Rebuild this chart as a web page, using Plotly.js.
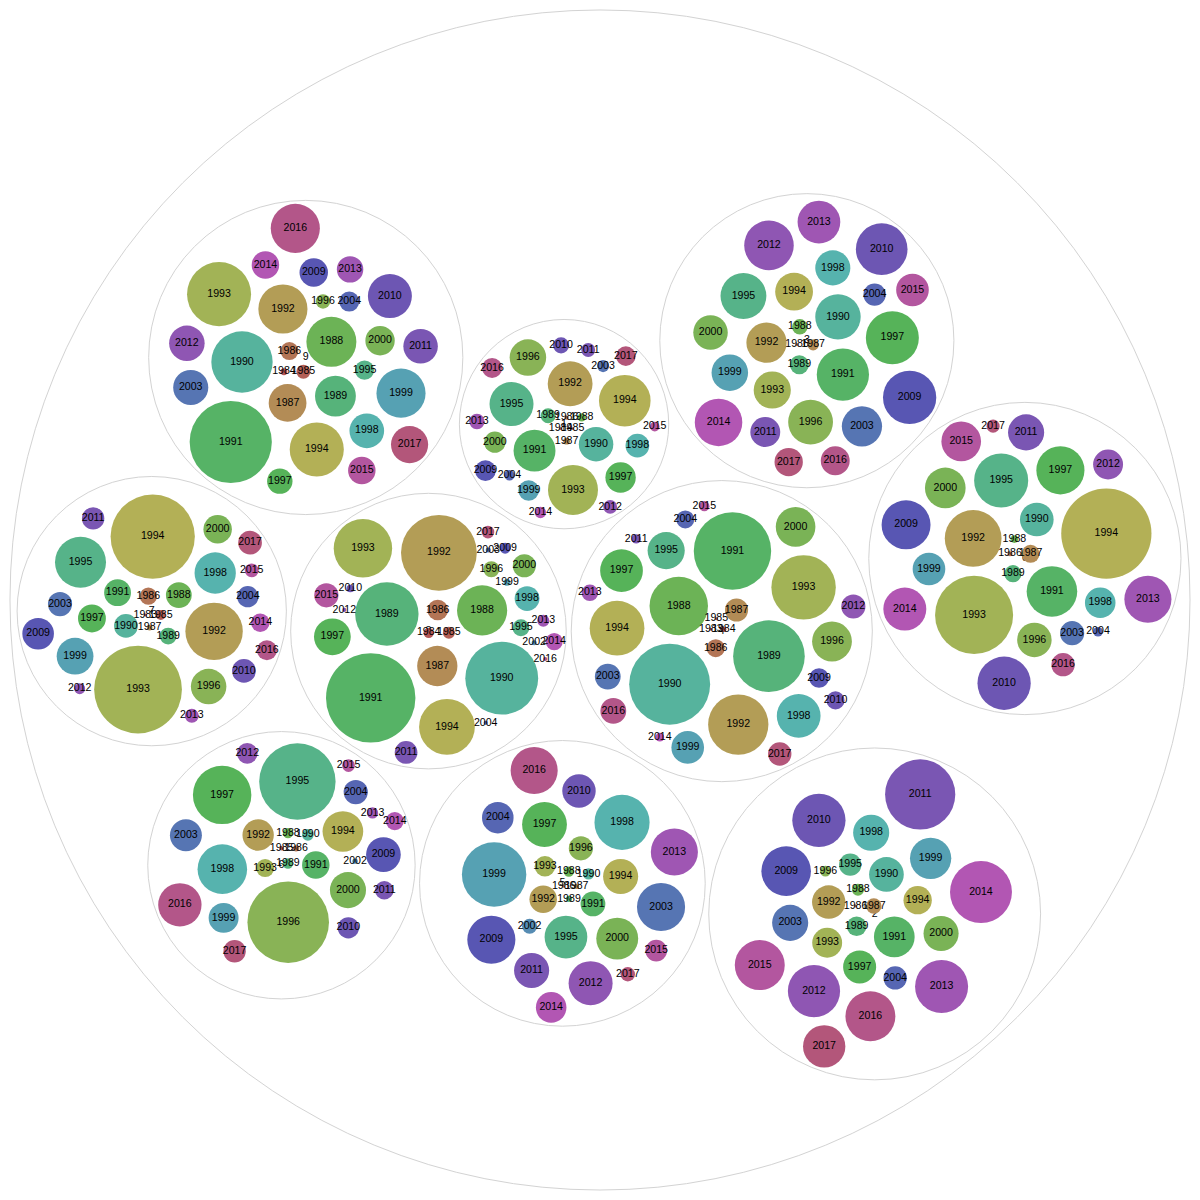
<!DOCTYPE html>
<html>
<head>
<meta charset="utf-8">
<script src="https://cdn.plot.ly/plotly-3.0.1.min.js"></script>
<style>html,body{margin:0;padding:0;background:#fff}#chart{width:1200px;height:1200px}</style>
</head>
<body>
<div id="chart"></div>
<script>
// ---------------- DATA ----------------
const years = [1983,1984,1985,1986,1987,1988,1989,1990,1991,1992,1993,1994,1995,1996,1997,1998,1999,2000,2002,2003,2004,2009,2010,2011,2012,2013,2014,2015,2016,2017];

// value per year for each group (null = year absent in that group)
const values0 = [null,null,null,6,76,14,69,266,600,756,1429,1910,686,279,543,219,250,388,null,137,22,562,666,306,210,520,433,369,128,40];
const values1 = [null,2,2,4,11,16,52,279,412,471,586,625,454,313,216,132,100,106,null,34,25,100,61,45,45,56,30,22,94,90];
const values2 = [null,null,null,2,56,34,90,282,388,262,210,188,117,28,256,306,400,289,null,306,128,576,666,1156,640,660,900,586,586,420];
const values3 = [null,null,null,2,30,56,85,484,640,380,324,335,493,471,660,289,313,279,null,380,117,666,625,210,576,428,529,250,196,188];
const values4 = [2,6,2,76,125,801,1204,1537,1406,853,973,702,324,372,428,449,250,369,null,156,76,90,77,20,137,64,18,25,156,128];
const values5 = [null,null,null,2,6,25,9,30,144,177,100,289,428,137,471,713,973,412,53,543,234,543,262,289,454,520,219,110,520,49];
const values6 = [null,null,5,9,null,25,25,32,177,231,77,388,1369,1560,801,576,210,306,7,240,137,282,106,81,100,30,77,38,441,117];
const values7 = [2,null,23,69,8,156,67,132,169,773,1806,1665,610,296,182,400,317,190,null,137,106,234,132,117,28,46,81,45,94,132];
const values8 = [null,25,34,100,380,590,942,1246,1875,1347,801,729,67,61,317,144,11,125,6,6,4,28,14,121,4,34,69,137,4,38];
const values9 = [null,11,46,76,335,586,392,882,1584,566,961,686,86,49,151,282,566,202,null,289,94,190,454,279,296,164,177,177,566,324];

// order in which the groups appear in the data
const groupOrder = ["8","4","1","5","3","9","2","6","0","7"];
const groupValues = {"0":values0,"1":values1,"2":values2,"3":values3,"4":values4,"5":values5,"6":values6,"7":values7,"8":values8,"9":values9};

// ---------------- STYLE ----------------
const yearHues = [354,0,6,20,35,106,143,166,130,46,71,58,153,87,122,177,192,97,205,220,230,241,255,263,277,287,299,313,327,337];
const SAT = 0.38, LIGHT = 0.52;
const OUTER_R = 590, CENTER = 600;
const PAD_LEAF = 4.5, EDGE_LEAF = 3, PAD_GROUP = 2.5, EDGE_GROUP = 7;
const FONT = {family: '"Liberation Sans", Arial, Helvetica, sans-serif', size: 10.6, color: '#000'};

function hslHex(h, s, l) {
  const c = (1 - Math.abs(2 * l - 1)) * s, hp = h / 60, x = c * (1 - Math.abs(hp % 2 - 1));
  let r = 0, g = 0, b = 0;
  if (hp < 1) { r = c; g = x; } else if (hp < 2) { r = x; g = c; } else if (hp < 3) { g = c; b = x; }
  else if (hp < 4) { g = x; b = c; } else if (hp < 5) { r = x; b = c; } else { r = c; b = x; }
  const m = l - c / 2;
  const to = v => Math.round((v + m) * 255).toString(16).padStart(2, '0');
  return '#' + to(r) + to(g) + to(b);
}

// ---------------- CIRCLE PACKING (front-chain, as in d3-hierarchy) ----------------
function lcg() { let s = 1; return () => (s = (1664525 * s + 1013904223) % 4294967296) / 4294967296; }
function shuffle(arr, random) { let m = arr.length, t, i; while (m) { i = random() * m-- | 0; t = arr[m]; arr[m] = arr[i]; arr[i] = t; } return arr; }
function enclosesNot(a, b) { const dr = a.r - b.r, dx = b.x - a.x, dy = b.y - a.y; return dr < 0 || dr * dr < dx * dx + dy * dy; }
function enclosesWeak(a, b) { const dr = a.r - b.r + Math.max(a.r, b.r, 1) * 1e-9, dx = b.x - a.x, dy = b.y - a.y; return dr > 0 && dr * dr > dx * dx + dy * dy; }
function enclosesWeakAll(a, B) { for (let i = 0; i < B.length; ++i) if (!enclosesWeak(a, B[i])) return false; return true; }
function encloseBasis1(a) { return {x: a.x, y: a.y, r: a.r}; }
function encloseBasis2(a, b) {
  const x1 = a.x, y1 = a.y, r1 = a.r, x2 = b.x, y2 = b.y, r2 = b.r,
    x21 = x2 - x1, y21 = y2 - y1, r21 = r2 - r1, l = Math.sqrt(x21 * x21 + y21 * y21);
  return {x: (x1 + x2 + x21 / l * r21) / 2, y: (y1 + y2 + y21 / l * r21) / 2, r: (l + r1 + r2) / 2};
}
function encloseBasis3(a, b, c) {
  const x1 = a.x, y1 = a.y, r1 = a.r, x2 = b.x, y2 = b.y, r2 = b.r, x3 = c.x, y3 = c.y, r3 = c.r,
    a2 = x1 - x2, a3 = x1 - x3, b2 = y1 - y2, b3 = y1 - y3, c2 = r2 - r1, c3 = r3 - r1,
    d1 = x1 * x1 + y1 * y1 - r1 * r1, d2 = d1 - x2 * x2 - y2 * y2 + r2 * r2, d3 = d1 - x3 * x3 - y3 * y3 + r3 * r3,
    ab = a3 * b2 - a2 * b3, xa = (b2 * d3 - b3 * d2) / (ab * 2) - x1, xb = (b3 * c2 - b2 * c3) / ab,
    ya = (a3 * d2 - a2 * d3) / (ab * 2) - y1, yb = (a2 * c3 - a3 * c2) / ab,
    A = xb * xb + yb * yb - 1, B = 2 * (r1 + xa * xb + ya * yb), C = xa * xa + ya * ya - r1 * r1,
    r = -(Math.abs(A) > 1e-6 ? (B + Math.sqrt(B * B - 4 * A * C)) / (2 * A) : C / B);
  return {x: x1 + xa + xb * r, y: y1 + ya + yb * r, r: r};
}
function encloseBasis(B) { return B.length === 1 ? encloseBasis1(B[0]) : B.length === 2 ? encloseBasis2(B[0], B[1]) : encloseBasis3(B[0], B[1], B[2]); }
function extendBasis(B, p) {
  if (enclosesWeakAll(p, B)) return [p];
  for (let i = 0; i < B.length; ++i) {
    if (enclosesNot(p, B[i]) && enclosesWeakAll(encloseBasis2(B[i], p), B)) return [B[i], p];
  }
  for (let i = 0; i < B.length - 1; ++i) {
    for (let j = i + 1; j < B.length; ++j) {
      if (enclosesNot(encloseBasis2(B[i], B[j]), p) && enclosesNot(encloseBasis2(B[i], p), B[j]) &&
          enclosesNot(encloseBasis2(B[j], p), B[i]) && enclosesWeakAll(encloseBasis3(B[i], B[j], p), B)) {
        return [B[i], B[j], p];
      }
    }
  }
  return B.concat([p]).slice(-3);
}
function packEnclose(circles) {
  const arr = shuffle(Array.from(circles), lcg());
  let i = 0, n = arr.length, B = [], p, e;
  while (i < n) {
    p = arr[i];
    if (e && enclosesWeak(e, p)) ++i;
    else { B = extendBasis(B, p); e = encloseBasis(B); i = 0; }
  }
  return e;
}
function place(b, a, c) {
  const dx = b.x - a.x, dy = b.y - a.y, d2 = dx * dx + dy * dy;
  let x, y, a2, b2;
  if (d2) {
    a2 = a.r + c.r; a2 *= a2; b2 = b.r + c.r; b2 *= b2;
    if (a2 > b2) {
      x = (d2 + b2 - a2) / (2 * d2); y = Math.sqrt(Math.max(0, b2 / d2 - x * x));
      c.x = b.x - x * dx - y * dy; c.y = b.y - x * dy + y * dx;
    } else {
      x = (d2 + a2 - b2) / (2 * d2); y = Math.sqrt(Math.max(0, a2 / d2 - x * x));
      c.x = a.x + x * dx - y * dy; c.y = a.y + x * dy + y * dx;
    }
  } else { c.x = a.x + c.r; c.y = a.y; }
}
function intersects(a, b) { const dr = a.r + b.r - 1e-6, dx = b.x - a.x, dy = b.y - a.y; return dr > 0 && dr * dr > dx * dx + dy * dy; }
function score(node) {
  const a = node._, b = node.next._, ab = a.r + b.r,
    dx = (a.x * b.r + b.x * a.r) / ab, dy = (a.y * b.r + b.y * a.r) / ab;
  return dx * dx + dy * dy;
}
function Node(circle) { this._ = circle; this.next = null; this.previous = null; }
function packSiblings(circles) {
  const n = circles.length;
  if (!n) return 0;
  let a, b, c, aa, ca, i, j, k, sj, sk;
  a = circles[0]; a.x = 0; a.y = 0;
  if (!(n > 1)) return a.r;
  b = circles[1]; a.x = -b.r; b.x = a.r; b.y = 0;
  if (!(n > 2)) return a.r + b.r;
  place(b, a, c = circles[2]);
  a = new Node(a); b = new Node(b); c = new Node(c);
  a.next = c.previous = b; b.next = a.previous = c; c.next = b.previous = a;
  pack: for (i = 3; i < n; ++i) {
    place(a._, b._, c = circles[i]); c = new Node(c);
    j = b.next; k = a.previous; sj = b._.r; sk = a._.r;
    do {
      if (sj <= sk) {
        if (intersects(j._, c._)) { b = j; a.next = b; b.previous = a; --i; continue pack; }
        sj += j._.r; j = j.next;
      } else {
        if (intersects(k._, c._)) { a = k; a.next = b; b.previous = a; --i; continue pack; }
        sk += k._.r; k = k.previous;
      }
    } while (j !== k.next);
    c.previous = a; c.next = b; a.next = b.previous = b = c;
    aa = score(a);
    while ((c = c.next) !== b) { if ((ca = score(c)) < aa) { a = c; aa = ca; } }
    b = a.next;
  }
  a = [b._]; c = b; while ((c = c.next) !== b) a.push(c._);
  c = packEnclose(a);
  for (i = 0; i < n; ++i) { a = circles[i]; a.x -= c.x; a.y -= c.y; }
  return c.r;
}

function computeLayout(scale) {
  const groups = groupOrder.map(g => {
    const vals = groupValues[g];
    const leaves = [];
    years.forEach((yr, i) => { if (vals[i] != null) leaves.push({year: yr, idx: i, r: Math.sqrt(vals[i]) * scale + PAD_LEAF}); });
    const e = packSiblings(leaves);
    leaves.forEach(l => { l.r -= PAD_LEAF; });
    const gr = e - PAD_LEAF + EDGE_LEAF;
    return {name: g, leaves: leaves, gr: gr, r: gr + PAD_GROUP};
  });
  const E = packSiblings(groups);
  return {groups: groups, R: E - PAD_GROUP + EDGE_GROUP};
}

let scale = 1, lay = computeLayout(scale);
for (let it = 0; it < 60; it++) { scale *= OUTER_R / lay.R; lay = computeLayout(scale); }

// ---------------- TRACES ----------------
const shapes = [{type: 'circle', xref: 'x', yref: 'y', x0: CENTER - lay.R, x1: CENTER + lay.R, y0: CENTER - lay.R, y1: CENTER + lay.R,
  line: {color: '#d3d3d3', width: 1}, fillcolor: '#ffffff', layer: 'below'}];
const gx = [], gy = [], gt = [];
const lx = [], ly = [], ls = [], lc = [], lt = [];
lay.groups.forEach(g => {
  const cx = CENTER + g.x, cy = CENTER + g.y;
  shapes.push({type: 'circle', xref: 'x', yref: 'y', x0: cx - g.gr, x1: cx + g.gr, y0: cy - g.gr, y1: cy + g.gr,
    line: {color: '#d3d3d3', width: 1}, fillcolor: '#ffffff', layer: 'below'});
  gx.push(cx); gy.push(cy); gt.push(g.name);
  g.leaves.forEach(l => {
    lx.push(cx + l.x); ly.push(cy + l.y); ls.push(2 * l.r);
    lc.push(hslHex(yearHues[l.idx], SAT, LIGHT)); lt.push(String(l.year));
  });
});

const traces = [
  {type: 'scatter', mode: 'text', x: gx, y: gy, text: gt, textposition: 'middle center', textfont: FONT, hoverinfo: 'skip', cliponaxis: false},
  {type: 'scatter', mode: 'markers+text', x: lx, y: ly, text: lt, textposition: 'middle center', textfont: FONT,
    marker: {size: ls, sizemode: 'diameter', color: lc, opacity: 1, line: {width: 0}}, hoverinfo: 'text', cliponaxis: false}
];

const layout = {
  width: 1200, height: 1200, margin: {l: 0, r: 0, t: 0, b: 0},
  paper_bgcolor: '#ffffff', plot_bgcolor: '#ffffff', showlegend: false,
  xaxis: {range: [0, 1200], visible: false, fixedrange: true},
  yaxis: {range: [0, 1200], visible: false, fixedrange: true},
  shapes: shapes
};
Plotly.newPlot('chart', traces, layout, {staticPlot: true, displayModeBar: false});
</script>
</body>
</html>
